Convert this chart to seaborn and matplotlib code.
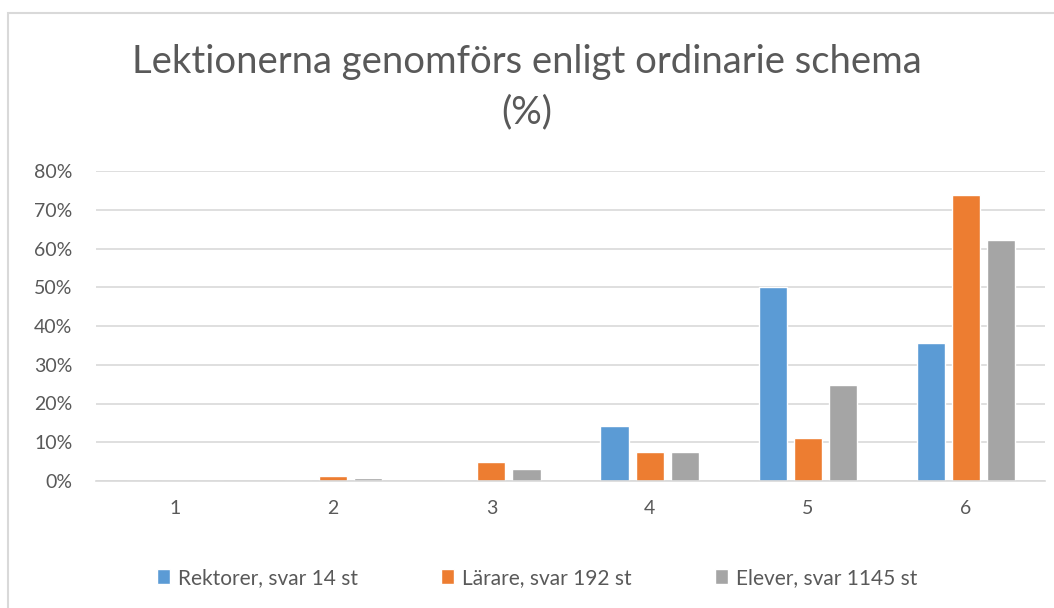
import pandas as pd
import seaborn as sns
import matplotlib.pyplot as plt
from matplotlib.patches import Rectangle
from matplotlib.ticker import PercentFormatter

categories = ['1', '2', '3', '4', '5', '6']
rektorer = [0.0, 0.0, 0.0, 14.3, 50.0, 35.7]
larare = [0.0, 1.3, 4.9, 7.6, 11.0, 73.7]
elever = [0.0, 0.7, 3.1, 7.6, 24.8, 62.1]
series_names = ['Rektorer, svar 14 st', 'Lärare, svar 192 st', 'Elever, svar 1145 st']
colors = ['#5B9BD5', '#ED7D31', '#A5A5A5']

df = pd.DataFrame({
    'kategori': categories * 3,
    'andel': rektorer + larare + elever,
    'grupp': [s for s in series_names for _ in categories],
})

sns.set_theme(style='white')
plt.rcParams['font.family'] = ['Lato', 'DejaVu Sans']
text_color = '#595959'

fig = plt.figure(figsize=(10.54, 6.08), dpi=100)
ax = fig.add_axes([96 / 1054, 1 - 481 / 608, (1045 - 96) / 1054, (481 - 171) / 608])

sns.barplot(data=df, x='kategori', y='andel', hue='grupp', palette=colors,
            saturation=1, width=0.665, gap=0.2, ax=ax, legend=True)

ax.set_ylim(0, 80)
ax.set_yticks(range(0, 81, 10))
ax.yaxis.set_major_formatter(PercentFormatter(decimals=0))
ax.grid(axis='y', color='#D9D9D9', linewidth=1.2)
ax.set_axisbelow(True)
for side in ['top', 'right', 'left']:
    ax.spines[side].set_visible(False)
ax.spines['bottom'].set_color('#D9D9D9')
ax.spines['bottom'].set_linewidth(1.2)
ax.set_xlabel('')
ax.set_ylabel('')
ax.tick_params(axis='both', colors=text_color, labelsize=14, length=0)
ax.tick_params(axis='y', pad=17)
ax.tick_params(axis='x', pad=14)

ax.legend(loc='upper center', bbox_to_anchor=(0.465, -0.22), ncol=3, frameon=False,
          fontsize=15, labelcolor=text_color, handlelength=0.6, handleheight=0.7,
          handletextpad=0.4, columnspacing=4.0)

fig.text(0.5, 1 - 62 / 608, 'Lektionerna genomförs enligt ordinarie schema',
         ha='center', va='center', fontsize=27.5, color=text_color)
fig.text(0.5, 1 - 112 / 608, '(%)', ha='center', va='center', fontsize=27.5, color=text_color)

fig.patches.append(Rectangle((8 / 1054, -0.1), 1.2, 1 - 13 / 608 + 0.1,
                             transform=fig.transFigure, fill=False,
                             edgecolor='#D9D9D9', linewidth=1.5))

fig.savefig('out.png', dpi=100)
